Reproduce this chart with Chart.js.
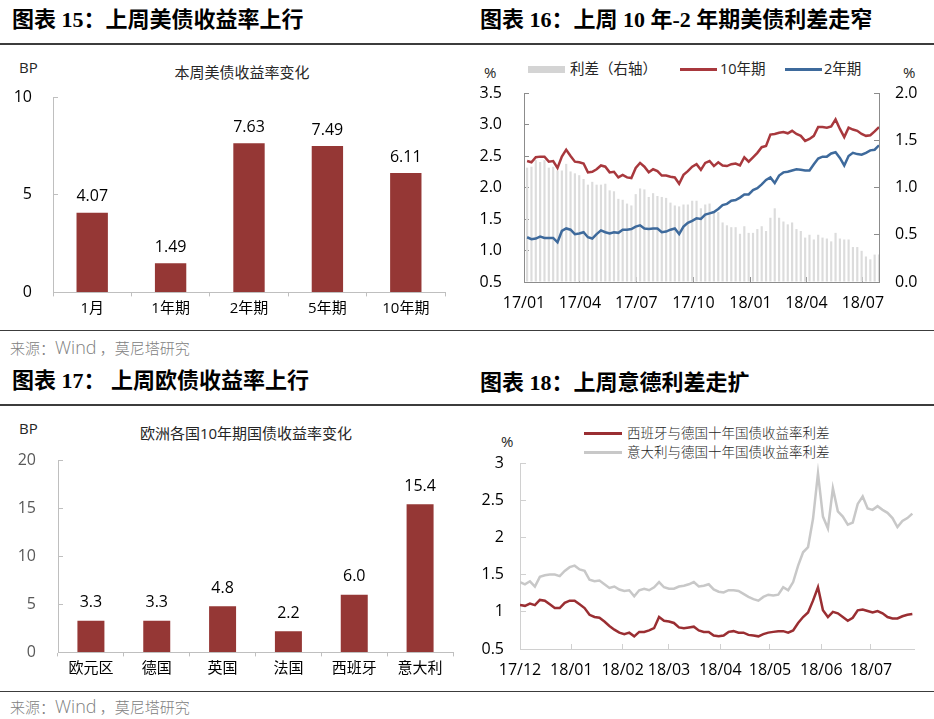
<!DOCTYPE html>
<html>
<head>
<meta charset="utf-8">
<script src="https://cdn.jsdelivr.net/npm/chart.js@4.4.0/dist/chart.umd.min.js"></script>
<style>
  body { margin: 0; background: #fff; width: 934px; height: 719px; position: relative; overflow: hidden;
         font-family: "Open Sans", "Noto Sans CJK SC", sans-serif; }
  .t { position: absolute; white-space: pre; line-height: 1; transform: translateY(-50%); }
  .c { transform: translate(-50%, -50%); }
  .ptitle { font-family: "Liberation Serif", "Noto Sans CJK SC", serif; font-weight: bold; font-size: 22px; color: #000; }
  .rule { position: absolute; left: 0; width: 934px; height: 1.5px; background: #3c3c3c; }
  .src { font-family: "Noto Sans CJK SC", sans-serif; font-weight: 300; font-size: 15px; color: #808080; }
  .src span { font-family: "Open Sans", sans-serif; font-size: 18px; }
  .sub { font-size: 15px; color: #262626; }
  .leg { font-size: 14.5px; color: #262626; }
  .leg2 { font-family: "Noto Sans CJK SC", sans-serif; font-weight: 300; font-size: 13.5px; color: #262626; }
  .mk { position: absolute; }
  canvas { position: absolute; }
</style>
</head>
<body>

<div class="t ptitle" style="left:12px;top:20px">图表 15：上周美债收益率上行</div>
<div class="t ptitle" style="left:480px;top:20px">图表 16：上周 10 年-2 年期美债利差走窄</div>
<div class="rule" style="top:43px"></div>
<div class="rule" style="top:329.5px"></div>
<div class="t src" style="left:10px;top:347px">来源：<span>Wind</span> ，莫尼塔研究</div>

<div class="t ptitle" style="left:12px;top:381px">图表 17： 上周欧债收益率上行</div>
<div class="t ptitle" style="left:480px;top:383px">图表 18：上周意德利差走扩</div>
<div class="rule" style="top:404px"></div>
<div class="rule" style="top:690.5px"></div>
<div class="t src" style="left:10px;top:706px">来源：<span>Wind</span> ，莫尼塔研究</div>

<!-- 图表15 -->
<div class="t sub" style="left:19px;top:67px">BP</div>
<div class="t c sub" style="left:242px;top:72px">本周美债收益率变化</div>
<canvas id="c15" width="467" height="283" style="left:0;top:45px"></canvas>

<!-- 图表16 -->
<div class="t sub" style="left:484px;top:72px">%</div>
<div class="t sub" style="left:903px;top:72px">%</div>
<div class="mk" style="left:528px;top:66px;width:37px;height:7px;background:#d4d4d4"></div>
<div class="t leg" style="left:570px;top:69px">利差（右轴）</div>
<div class="mk" style="left:680px;top:68px;width:37px;height:2.5px;background:#a8383d"></div>
<div class="t leg" style="left:720px;top:69px">10年期</div>
<div class="mk" style="left:785px;top:68px;width:37px;height:2.5px;background:#3e6a9c"></div>
<div class="t leg" style="left:824px;top:69px">2年期</div>
<canvas id="c16" width="467" height="283" style="left:467px;top:45px"></canvas>

<!-- 图表17 -->
<div class="t sub" style="left:19px;top:428px">BP</div>
<div class="t c sub" style="left:246px;top:433px">欧洲各国10年期国债收益率变化</div>
<canvas id="c17" width="467" height="283" style="left:0;top:406px"></canvas>

<!-- 图表18 -->
<div class="t sub" style="left:501px;top:441px">%</div>
<div class="mk" style="left:584px;top:431.5px;width:38px;height:3px;background:#9a2e32"></div>
<div class="t leg2" style="left:627px;top:433px">西班牙与德国十年国债收益率利差</div>
<div class="mk" style="left:584px;top:450.5px;width:38px;height:3px;background:#c8c8c8"></div>
<div class="t leg2" style="left:627px;top:452px">意大利与德国十年国债收益率利差</div>
<canvas id="c18" width="467" height="283" style="left:467px;top:406px"></canvas>

<script>
// ---- 图表15：本周美债收益率变化 (BP)
const usTenors = ['1月', '1年期', '2年期', '5年期', '10年期'];
const usChange = [4.07, 1.49, 7.63, 7.49, 6.11];

// ---- 图表17：欧洲各国10年期国债收益率变化 (BP)
const euCountries = ['欧元区', '德国', '英国', '法国', '西班牙', '意大利'];
const euChange = [3.3, 3.3, 4.8, 2.2, 6.0, 15.4];

// ---- 图表16：美债收益率 (%)，周五收盘，2017-01-06 起每周一个点
const ustFirstDate = '2017-01-06';
const ustLastDate = '2018-07-27';
const ust10y = [
  2.42, 2.40, 2.48, 2.49, 2.49, 2.41, 2.42, 2.31, 2.49, 2.60,
  2.50, 2.41, 2.40, 2.38, 2.24, 2.25, 2.29, 2.35, 2.33, 2.24,
  2.25, 2.16, 2.20, 2.16, 2.15, 2.31, 2.39, 2.33, 2.24, 2.29,
  2.26, 2.19, 2.19, 2.17, 2.16, 2.06, 2.20, 2.26, 2.33, 2.37,
  2.28, 2.39, 2.42, 2.34, 2.40, 2.35, 2.34, 2.37, 2.38, 2.35,
  2.48, 2.41,
  2.48, 2.55, 2.64, 2.66, 2.84, 2.85, 2.87, 2.88, 2.86, 2.90,
  2.85, 2.82, 2.74, 2.77, 2.82, 2.96, 2.96, 2.95, 2.97, 3.08,
  2.93, 2.80, 2.95, 2.92, 2.90, 2.85, 2.82, 2.83, 2.89, 2.96
];
const ust2y = [
  1.21, 1.18, 1.19, 1.22, 1.20, 1.20, 1.20, 1.13, 1.31, 1.35,
  1.33, 1.26, 1.27, 1.29, 1.21, 1.19, 1.26, 1.32, 1.29, 1.27,
  1.29, 1.28, 1.33, 1.33, 1.34, 1.38, 1.40, 1.35, 1.34, 1.35,
  1.35, 1.29, 1.30, 1.33, 1.35, 1.26, 1.38, 1.44, 1.47, 1.51,
  1.50, 1.57, 1.59, 1.61, 1.66, 1.72, 1.74, 1.79, 1.80, 1.84,
  1.89, 1.89,
  1.96, 1.99, 2.05, 2.12, 2.16, 2.07, 2.19, 2.24, 2.25, 2.27,
  2.29, 2.28, 2.27, 2.27, 2.37, 2.46, 2.49, 2.49, 2.54, 2.56,
  2.47, 2.35, 2.50, 2.55, 2.53, 2.52, 2.55, 2.59, 2.60, 2.67
];
const ustSpread = [
  1.21, 1.22, 1.29, 1.27, 1.29, 1.21, 1.22, 1.18, 1.18, 1.25,
  1.17, 1.15, 1.13, 1.09, 1.03, 1.06, 1.03, 1.03, 1.04, 0.97,
  0.96, 0.88, 0.87, 0.83, 0.81, 0.93, 0.99, 0.98, 0.90, 0.94,
  0.91, 0.90, 0.89, 0.84, 0.81, 0.80, 0.82, 0.82, 0.86, 0.86,
  0.78, 0.82, 0.83, 0.73, 0.74, 0.63, 0.60, 0.58, 0.58, 0.51,
  0.59, 0.52,
  0.52, 0.56, 0.59, 0.54, 0.68, 0.78, 0.68, 0.64, 0.61, 0.63,
  0.56, 0.54, 0.47, 0.50, 0.45, 0.50, 0.47, 0.46, 0.43, 0.52,
  0.46, 0.45, 0.45, 0.37, 0.37, 0.33, 0.27, 0.24, 0.29, 0.29
];
const ustTickDates = ['2017-01-01', '2017-04-01', '2017-07-01', '2017-10-01', '2018-01-01', '2018-04-01', '2018-07-01'];
const ustTickLabels = ['17/01', '17/04', '17/07', '17/10', '18/01', '18/04', '18/07'];

// ---- 图表18：与德国十年国债收益率利差 (%)，2017-12-01 起每3天一个点
const euFirstDate = '2017-12-01';
const euLastDate = '2018-07-27';
const esDe = [
  1.09, 1.08, 1.11, 1.09, 1.16, 1.15, 1.10, 1.05, 1.05, 1.12,
  1.15, 1.15, 1.10, 1.05, 0.96, 0.93, 0.92, 0.87, 0.81, 0.76,
  0.72, 0.70, 0.72, 0.67, 0.73, 0.73, 0.75, 0.78, 0.93, 0.88,
  0.87, 0.85, 0.79, 0.78, 0.79, 0.80, 0.75, 0.73, 0.73, 0.68,
  0.67, 0.68, 0.73, 0.74, 0.72, 0.72, 0.69, 0.68, 0.67, 0.70,
  0.72, 0.73, 0.74, 0.74, 0.72, 0.75, 0.85, 0.93, 0.99, 1.15,
  1.33, 1.02, 0.93, 1.00, 0.98, 0.93, 0.88, 0.92, 1.02, 1.03,
  1.01, 0.99, 1.01, 0.98, 0.93, 0.91, 0.91, 0.94, 0.96, 0.97
];
const itDe = [
  1.40, 1.37, 1.41, 1.34, 1.47, 1.49, 1.50, 1.50, 1.48, 1.55,
  1.60, 1.62, 1.57, 1.55, 1.43, 1.41, 1.42, 1.37, 1.32, 1.34,
  1.30, 1.28, 1.29, 1.21, 1.29, 1.31, 1.29, 1.33, 1.40, 1.33,
  1.31, 1.31, 1.34, 1.35, 1.37, 1.40, 1.34, 1.35, 1.37, 1.30,
  1.27, 1.26, 1.29, 1.29, 1.28, 1.24, 1.20, 1.17, 1.15, 1.20,
  1.23, 1.22, 1.23, 1.33, 1.29, 1.40, 1.62, 1.80, 1.87, 2.25,
  2.86, 2.28, 2.12, 2.66, 2.35, 2.28, 2.17, 2.20, 2.45, 2.55,
  2.39, 2.37, 2.42, 2.37, 2.33, 2.26, 2.14, 2.22, 2.26, 2.32
];
const euTickDates = ['2017-12-01', '2018-01-01', '2018-02-01', '2018-03-01', '2018-04-01', '2018-05-01', '2018-06-01', '2018-07-01'];
const euTickLabels = ['17/12', '18/01', '18/02', '18/03', '18/04', '18/05', '18/06', '18/07'];

Chart.defaults.font.family = '"Open Sans", "Noto Sans CJK SC", sans-serif';
Chart.defaults.color = '#000';

const DAY = 86400000;
function daysFrom(base, d) { return (Date.parse(d) - Date.parse(base)) / DAY; }
// weekly / every-n-days series -> {x: day number, y: value}
function toPoints(values, base, first, stepDays) {
  const x0 = daysFrom(base, first);
  return values.map((v, i) => ({ x: x0 + i * stepDays, y: v }));
}

// value labels above bars
const barValues = {
  id: 'barValues',
  afterDatasetsDraw(chart, args, opts) {
    const ctx = chart.ctx;
    const ds = chart.data.datasets[0];
    ctx.save();
    ctx.font = '16px "Open Sans", "Noto Sans CJK SC", sans-serif';
    ctx.fillStyle = '#000';
    ctx.textAlign = 'center';
    ctx.textBaseline = 'middle';
    chart.getDatasetMeta(0).data.forEach((bar, i) => {
      ctx.fillText(ds.data[i].toFixed(opts.decimals), bar.x, bar.y - opts.offset);
    });
    ctx.restore();
  }
};

function barChart(id, labels, values, o) {
  return new Chart(document.getElementById(id), {
    type: 'bar',
    data: {
      labels: labels,
      datasets: [{ data: values, backgroundColor: '#953735', barPercentage: o.barPct, categoryPercentage: 1 }]
    },
    options: {
      responsive: false,
      animation: false,
      layout: { padding: { top: o.top, right: o.right, left: 0, bottom: 0 } },
      plugins: {
        legend: { display: false },
        tooltip: { enabled: false },
        barValues: { decimals: o.decimals, offset: o.labelOffset }
      },
      scales: {
        x: {
          grid: { offset: true, drawOnChartArea: false, tickLength: 4, color: '#bfbfbf' },
          border: { color: '#bfbfbf' },
          ticks: { padding: 3, color: '#000', font: { size: 15 } },
          afterFit: a => { a.height = o.xh; }
        },
        y: {
          min: 0, max: o.max,
          grid: { drawOnChartArea: false, tickLength: -5, color: '#bfbfbf' },
          border: { color: '#bfbfbf' },
          ticks: { stepSize: 5, padding: o.yPad, color: o.yColor, font: { size: 16 } },
          afterFit: a => { a.width = o.yw; }
        }
      }
    },
    plugins: [barValues]
  });
}

barChart('c15', usTenors, usChange, {
  barPct: 0.4, top: 52, right: 22, xh: 34, yw: 53, yPad: 26, max: 10,
  yColor: '#000', decimals: 2, labelOffset: 16
});
barChart('c17', euCountries, euChange, {
  barPct: 0.41, top: 54, right: 14, xh: 36, yw: 58, yPad: 27, max: 20,
  yColor: '#595959', decimals: 1, labelOffset: 18
});

// ---- 图表16
const ustBase = ustTickDates[0];
const ustTicks = ustTickDates.map(d => daysFrom(ustBase, d));
new Chart(document.getElementById('c16'), {
  type: 'bar',
  data: {
    datasets: [
      { type: 'line', label: '10年期', data: toPoints(ust10y, ustBase, ustFirstDate, 7),
        borderColor: '#a8383d', borderWidth: 2.5, pointRadius: 0, tension: 0, yAxisID: 'y', order: 1 },
      { type: 'line', label: '2年期', data: toPoints(ust2y, ustBase, ustFirstDate, 7),
        borderColor: '#3e6a9c', borderWidth: 2.5, pointRadius: 0, tension: 0, yAxisID: 'y', order: 1 },
      { type: 'bar', label: '利差（右轴）', data: toPoints(ustSpread, ustBase, ustFirstDate, 7),
        backgroundColor: '#dcdcdc', barPercentage: 0.5, categoryPercentage: 1, yAxisID: 'y1', order: 3 }
    ]
  },
  options: {
    responsive: false,
    animation: false,
    layout: { padding: { top: 48, left: 0, right: 0, bottom: 0 } },
    plugins: { legend: { display: false }, tooltip: { enabled: false } },
    scales: {
      x: {
        type: 'linear', min: 0, max: daysFrom(ustBase, ustLastDate), offset: false,
        afterBuildTicks: a => { a.ticks = ustTicks.map(v => ({ value: v })); },
        ticks: { callback: (v, i) => ustTickLabels[i], autoSkip: false, maxRotation: 0, padding: 17, font: { size: 16 } },
        grid: { offset: false, drawOnChartArea: false, tickLength: -5, color: '#8c8c8c' },
        border: { color: '#8c8c8c' },
        afterFit: a => { a.height = 46; }
      },
      y: {
        position: 'left', min: 0.5, max: 3.5,
        ticks: { stepSize: 0.5, callback: v => v.toFixed(1), padding: 27, font: { size: 16 } },
        grid: { drawOnChartArea: false, tickLength: -5, color: '#8c8c8c' },
        border: { color: '#8c8c8c' },
        afterFit: a => { a.width = 57; }
      },
      y1: {
        position: 'right', min: 0, max: 2,
        ticks: { stepSize: 0.5, callback: v => v.toFixed(1), padding: 21, font: { size: 16 } },
        grid: { drawOnChartArea: false, tickLength: -5, color: '#8c8c8c' },
        border: { color: '#8c8c8c' },
        afterFit: a => { a.width = 55; }
      }
    }
  }
});

// ---- 图表18
const euTicks = euTickDates.map(d => daysFrom(euFirstDate, d));
new Chart(document.getElementById('c18'), {
  type: 'line',
  data: {
    datasets: [
      { label: '西班牙与德国十年国债收益率利差', data: toPoints(esDe, euFirstDate, euFirstDate, 3),
        borderColor: '#9a2e32', borderWidth: 2.5, pointRadius: 0, tension: 0 },
      { label: '意大利与德国十年国债收益率利差', data: toPoints(itDe, euFirstDate, euFirstDate, 3),
        borderColor: '#c8c8c8', borderWidth: 2.5, pointRadius: 0, tension: 0 }
    ]
  },
  options: {
    responsive: false,
    animation: false,
    layout: { padding: { top: 57, left: 0, right: 20, bottom: 0 } },
    plugins: { legend: { display: false }, tooltip: { enabled: false } },
    scales: {
      x: {
        type: 'linear', min: 0, max: daysFrom(euFirstDate, euLastDate),
        afterBuildTicks: a => { a.ticks = euTicks.map(v => ({ value: v })); },
        ticks: { callback: (v, i) => euTickLabels[i], autoSkip: false, maxRotation: 0, padding: 17, font: { size: 16 } },
        grid: { drawOnChartArea: false, tickLength: -5, color: '#d0d0d0' },
        border: { color: '#d0d0d0' },
        afterFit: a => { a.height = 40; }
      },
      y: {
        min: 0.5, max: 3,
        ticks: { stepSize: 0.5, callback: v => String(v), padding: 22, font: { size: 16 } },
        grid: { drawOnChartArea: false, tickLength: -6, color: '#d0d0d0' },
        border: { color: '#d0d0d0' },
        afterFit: a => { a.width = 53; }
      }
    }
  }
});
</script>
</body>
</html>
